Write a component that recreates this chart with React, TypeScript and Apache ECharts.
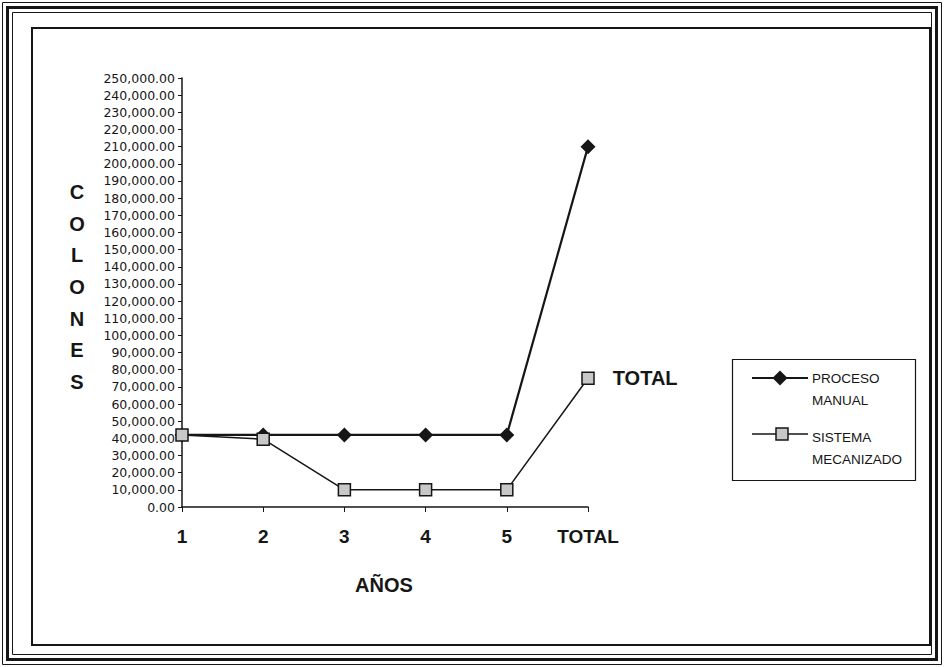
import React, { useEffect, useRef } from "react";
import * as echarts from "echarts";

const categories = ["1", "2", "3", "4", "5", "TOTAL"];
const procesoManual = [42000, 42000, 42000, 42000, 42000, 210000];
const sistemaMecanizado = [42000, 39500, 10000, 10000, 10000, 75000];
const yMin = 0;
const yMax = 250000;
const yStep = 10000;
const legendNames = ["PROCESO\nMANUAL", "SISTEMA\nMECANIZADO"];
const yTitle = "C\nO\nL\nO\nN\nE\nS";
const xTitle = "AÑOS";

const INK = "#161616";

export default function App() {
  const ref = useRef<HTMLDivElement>(null);
  useEffect(() => {
    document.body.style.margin = "0";
    const chart = echarts.init(ref.current!, null, { renderer: "svg" });
    const fmt = (v: number) =>
      v.toLocaleString("en-US", { minimumFractionDigits: 2, maximumFractionDigits: 2 });
    const lastIdx = sistemaMecanizado.length - 1;
    chart.setOption({
      animation: false,
      backgroundColor: "#ffffff",
      grid: { left: 182, top: 78, width: 406, height: 429, containLabel: false },
      xAxis: {
        type: "category",
        data: categories,
        boundaryGap: false,
        axisLine: { lineStyle: { color: INK, width: 1.5 } },
        axisTick: { show: true, alignWithLabel: true, length: 5, lineStyle: { color: INK } },
        axisLabel: {
          color: INK,
          fontFamily: "Liberation Sans",
          fontWeight: "bold",
          fontSize: 19,
          margin: 20,
        },
        splitLine: { show: false },
      },
      yAxis: {
        type: "value",
        min: yMin,
        max: yMax,
        interval: yStep,
        axisLine: { show: true, lineStyle: { color: INK, width: 1.5 } },
        axisTick: { show: true, length: 4, lineStyle: { color: INK } },
        axisLabel: {
          color: INK,
          fontFamily: "DejaVu Sans",
          fontSize: 12.5,
          margin: 7,
          formatter: fmt,
        },
        splitLine: { show: false },
      },
      series: [
        {
          name: legendNames[0],
          type: "line",
          data: procesoManual,
          symbol: "diamond",
          symbolSize: 15,
          itemStyle: { color: INK },
          lineStyle: { color: INK, width: 2.2 },
        },
        {
          name: legendNames[1],
          type: "line",
          data: sistemaMecanizado.map((v, i) =>
            i === lastIdx
              ? {
                  value: v,
                  label: {
                    show: true,
                    position: "right",
                    distance: 18,
                    formatter: "TOTAL",
                    color: INK,
                    fontFamily: "Liberation Sans",
                    fontWeight: "bold",
                    fontSize: 20,
                  },
                }
              : v
          ),
          symbol: "rect",
          symbolSize: 12,
          itemStyle: { color: "#c8c8c8", borderColor: INK, borderWidth: 1.5 },
          lineStyle: { color: INK, width: 1.5 },
          z: 3,
        },
      ],
      graphic: [
        // frame
        { type: "rect", shape: { x: 2.5, y: 2.5, width: 939, height: 662 }, style: { fill: "none", stroke: INK, lineWidth: 1 } },
        { type: "rect", shape: { x: 7.5, y: 7.5, width: 929, height: 652 }, style: { fill: "none", stroke: INK, lineWidth: 3 } },
        { type: "rect", shape: { x: 12.5, y: 12.5, width: 919, height: 642 }, style: { fill: "none", stroke: INK, lineWidth: 1 } },
        { type: "rect", shape: { x: 32, y: 28, width: 898, height: 617 }, style: { fill: "none", stroke: INK, lineWidth: 2 } },
        // axis titles
        {
          type: "text",
          x: 77,
          y: 287,
          style: {
            text: yTitle,
            fill: INK,
            font: "bold 20px 'Liberation Sans'",
            lineHeight: 31.7,
            align: "center",
            verticalAlign: "middle",
          },
        },
        {
          type: "text",
          x: 384,
          y: 585,
          style: {
            text: xTitle,
            fill: INK,
            font: "bold 20px 'Liberation Sans'",
            align: "center",
            verticalAlign: "middle",
          },
        },
        // legend
        {
          type: "group",
          children: [
            { type: "rect", shape: { x: 732.5, y: 359.5, width: 183, height: 121 }, style: { fill: "#fff", stroke: INK, lineWidth: 1.2 } },
            { type: "line", shape: { x1: 752, y1: 378, x2: 808, y2: 378 }, style: { stroke: INK, lineWidth: 2 } },
            { type: "polygon", shape: { points: [[780, 370.5], [787.5, 378], [780, 385.5], [772.5, 378]] }, style: { fill: INK } },
            { type: "text", x: 812, y: 378, style: { text: "PROCESO", fill: INK, font: "13.5px 'Liberation Sans'", verticalAlign: "middle" } },
            { type: "text", x: 812, y: 400, style: { text: "MANUAL", fill: INK, font: "13.5px 'Liberation Sans'", verticalAlign: "middle" } },
            { type: "line", shape: { x1: 752, y1: 434, x2: 808, y2: 434 }, style: { stroke: INK, lineWidth: 1.5 } },
            { type: "rect", shape: { x: 776, y: 428, width: 12, height: 12 }, style: { fill: "#c8c8c8", stroke: INK, lineWidth: 1.5 } },
            { type: "text", x: 812, y: 437, style: { text: "SISTEMA", fill: INK, font: "13.5px 'Liberation Sans'", verticalAlign: "middle" } },
            { type: "text", x: 812, y: 459, style: { text: "MECANIZADO", fill: INK, font: "13.5px 'Liberation Sans'", verticalAlign: "middle" } },
          ],
        },
      ],
    });
    return () => chart.dispose();
  }, []);
  return <div ref={ref} style={{ width: 944, height: 667 }} />;
}
